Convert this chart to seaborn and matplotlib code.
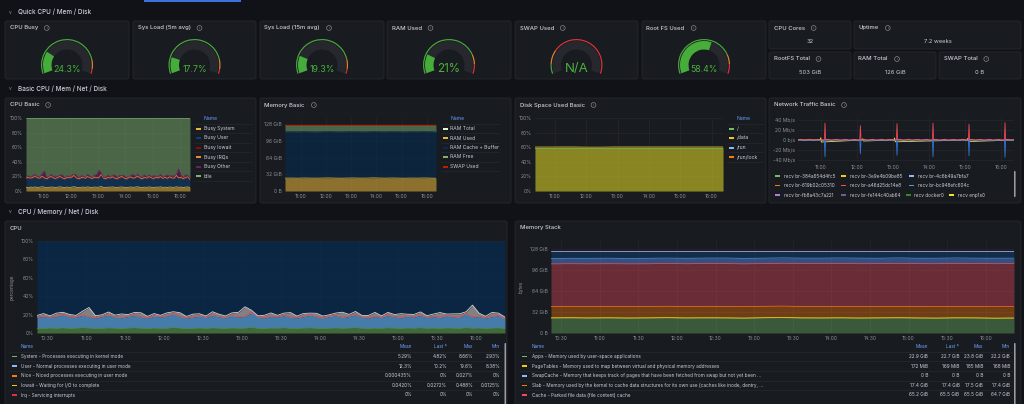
import matplotlib
matplotlib.use("Agg")
import matplotlib.pyplot as plt
from matplotlib.patches import Rectangle, Wedge, Circle, FancyBboxPatch
import numpy as np
import pandas as pd
import seaborn as sns

W, H = 1024, 404
BG = "#111217"
PANEL = "#181b1f"
BORDER = "#26282e"
TEXT = "#ccccdc"
MUTED = "#8e8e99"
GRID = "#25272c"
LINK = "#6e9fff"

# ---------------- quick stats ----------------
gauge_titles = ["CPU Busy", "Sys Load (5m avg)", "Sys Load (15m avg)", "RAM Used", "SWAP Used", "Root FS Used"]
gauge_values = [24.3, 17.7, 19.3, 21.0, None, 58.4]
gauge_labels = ["24.3%", "17.7%", "19.3%", "21%", "N/A", "58.4%"]
gauge_label_size = [6.3, 6.3, 6.3, 8.3, 9.5, 6.3]
gauge_thresholds = [(85, 95), (85, 95), (85, 95), (80, 90), (10, 25), (80, 90)]

stat_titles = ["CPU Cores", "Uptime", "RootFS Total", "RAM Total", "SWAP Total"]
stat_values = ["32", "7.2 weeks", "503 GiB", "126 GiB", "0 B"]

# ---------------- time window (hours of day) ----------------
T0, T1 = 10 + 22 / 60, 16 + 22 / 60

# CPU (%), 5 min samples
cpu_system = [5.1, 4.8, 5.4, 5.0, 5.6, 4.9, 5.2, 5.8, 5.3, 4.7,
              5.0, 5.5, 5.2, 4.9, 5.3, 5.7, 5.1, 4.8, 5.4, 5.0,
              5.2, 5.9, 5.3, 4.6, 5.1, 5.4, 5.0, 5.6, 5.2, 4.9,
              5.5, 5.1, 5.3, 6.1, 5.0, 4.8, 5.4, 5.2, 5.7, 5.0,
              4.9, 5.3, 5.6, 5.1, 4.7, 5.2, 5.5, 5.0, 5.4, 5.8,
              5.1, 4.9, 5.3, 5.0, 5.6, 5.2, 4.8, 5.4, 5.1, 5.7,
              5.0, 5.3, 4.9, 5.5, 5.2, 5.0, 5.8, 5.1, 5.4, 4.8,
              5.3, 5.6, 4.8]
cpu_user = [12.1, 13.0, 11.6, 12.8, 14.2, 12.4, 11.9, 13.5, 12.2, 11.4,
            12.9, 13.8, 12.0, 11.7, 12.6, 13.3, 12.1, 11.2, 12.8, 12.4,
            13.1, 14.6, 12.3, 11.5, 12.0, 12.9, 11.8, 13.4, 12.5, 11.6,
            13.0, 12.2, 12.7, 15.8, 12.1, 11.3, 12.6, 12.0, 13.2, 11.9,
            11.5, 12.4, 13.6, 12.2, 11.1, 12.7, 13.1, 11.8, 12.5, 13.9,
            12.0, 11.4, 12.6, 11.9, 13.3, 12.3, 11.6, 12.8, 12.1, 13.4,
            11.7, 12.5, 11.8, 13.0, 12.2, 11.9, 14.8, 12.0, 12.6, 11.5,
            12.4, 13.2, 10.2]
cpu_softirq = [0.7, 0.8, 0.6, 0.7, 0.9, 0.7, 0.6, 0.8, 0.7, 0.6,
               0.8, 0.7, 0.6, 0.7, 0.8, 0.9, 0.7, 0.6, 0.7, 0.8,
               0.7, 0.9, 0.6, 0.7, 0.8, 0.7, 0.6, 0.8, 0.7, 0.6,
               0.7, 0.8, 0.7, 1.0, 0.6, 0.7, 0.8, 0.7, 0.6, 0.7,
               0.8, 0.7, 0.9, 0.6, 0.7, 0.8, 0.7, 0.6, 0.7, 0.8,
               0.7, 0.6, 0.8, 0.7, 0.9, 0.7, 0.6, 0.8, 0.7, 0.7,
               0.6, 0.8, 0.7, 0.9, 0.7, 0.6, 0.8, 0.7, 0.7, 0.6,
               0.8, 0.7, 0.6]
cpu_steal = [1.2, 2.5, 1.0, 3.1, 1.8, 2.2, 1.4, 3.6, 9.5, 2.0,
             1.1, 2.8, 1.6, 3.4, 1.3, 2.4, 4.1, 1.5, 2.2, 1.0,
             2.9, 1.7, 3.8, 1.2, 2.6, 1.9, 1.1, 3.3, 2.0, 1.4,
             2.7, 4.4, 9.8, 1.8, 1.0, 2.5, 3.0, 1.3, 2.1, 4.6,
             1.2, 2.8, 1.5, 3.5, 1.9, 1.1, 2.4, 5.2, 1.6, 2.9,
             1.3, 2.2, 3.7, 1.0, 2.6, 1.8, 4.0, 1.4, 2.3, 3.1,
             1.5, 2.0, 4.8, 1.2, 2.7, 3.4, 1.6, 12.5, 2.9, 1.3,
             3.8, 2.1, 1.7]

# memory (GiB), 15 min samples
mem_total = 125.7
mem_used = [24.6, 24.8, 24.5, 24.9, 24.7, 24.6, 24.8, 25.0, 24.7, 24.5, 24.8, 24.9, 24.6,
            24.7, 25.1, 24.8, 24.6, 24.9, 24.7, 24.5, 24.8, 24.6, 24.9, 24.7, 24.4]
mem_free = [12.4, 12.3, 12.5, 12.2, 12.4, 12.6, 12.3, 12.1, 12.4, 12.5, 12.3, 12.2, 12.4,
            12.5, 12.0, 12.3, 12.4, 12.2, 12.3, 12.5, 12.2, 12.4, 12.1, 12.3, 12.6]
ms_apps = [22.9, 23.1, 22.8, 23.0, 22.7, 22.9, 23.2, 22.8, 23.0, 22.9, 22.6, 23.1, 23.4,
           22.9, 22.8, 23.0, 22.7, 22.9, 23.1, 22.8, 22.6, 23.0, 22.9, 22.5, 22.7]
ms_pagetables = [0.17, 0.17, 0.17, 0.18, 0.17, 0.17, 0.17, 0.17, 0.18, 0.17, 0.17, 0.17, 0.17,
                 0.17, 0.18, 0.17, 0.17, 0.17, 0.17, 0.17, 0.17, 0.17, 0.17, 0.17, 0.17]
ms_slab = [17.4, 17.4, 17.4, 17.5, 17.4, 17.4, 17.4, 17.4, 17.5, 17.4, 17.4, 17.4, 17.4,
           17.4, 17.5, 17.4, 17.4, 17.4, 17.4, 17.4, 17.4, 17.4, 17.4, 17.4, 17.4]
ms_cache = [64.8, 64.9, 65.0, 64.9, 65.1, 65.0, 65.2, 65.1, 65.2, 65.3, 65.2, 65.1, 65.3,
            65.2, 65.3, 65.4, 65.3, 65.2, 65.4, 65.3, 65.4, 65.5, 65.4, 65.5, 65.5]
ms_buffers = [8.4, 8.3, 8.5, 8.4, 8.3, 8.4, 8.2, 8.4, 8.3, 8.5, 8.4, 8.3, 8.2,
              8.4, 8.3, 8.4, 8.5, 8.3, 8.4, 8.3, 8.4, 8.3, 8.2, 8.4, 8.3]

# disk used (%)
disk_root = [58.3, 58.3, 58.4, 58.3, 58.4, 58.4, 58.4, 58.5, 58.4, 58.4, 58.4, 58.4, 58.4,
             58.4, 58.4, 58.4, 58.4, 58.4, 58.4, 58.4, 58.4, 58.4, 58.4, 58.4, 58.4]
disk_data = [60.3, 60.3, 60.3, 60.4, 60.4, 60.4, 60.2, 60.1, 60.1, 60.2, 60.4, 60.4, 60.4,
             60.4, 60.4, 60.4, 60.4, 60.4, 60.4, 60.4, 60.4, 60.4, 60.4, 60.4, 60.4]

# network (Mb/s): bursty interfaces sampled as (time, value)
net_a46d_time = ["10:22", "11:06", "11:07", "11:08", "12:05", "12:06", "12:07",
                 "13:06", "13:07", "13:08", "14:06", "14:07", "14:08",
                 "15:06", "15:07", "15:08", "16:06", "16:07", "16:08", "16:22"]
net_a46d = [0.4, 0.4, 33.0, 0.4, 0.4, 28.0, 0.4,
            0.4, 32.0, 0.4, 0.4, 33.0, 0.4,
            0.4, 31.0, 0.4, 0.4, 34.0, 0.4, 0.4]
net_bc94_time = net_a46d_time
net_bc94 = [-0.4, -0.4, -33.0, -0.4, -0.4, -27.0, -0.4,
            -0.4, -30.0, -0.4, -0.4, -33.0, -0.4,
            -0.4, -31.0, -0.4, -0.4, -34.0, -0.4, -0.4]
net_enp1_time = ["10:22", "10:59", "11:00", "11:01", "12:09", "12:10", "12:11",
                 "13:02", "13:03", "13:04", "15:04", "15:05", "15:06", "16:22"]
net_enp1 = [0.0, 0.0, 4.5, -4.0, 0.0, 2.5, -2.0,
            0.0, 4.0, -3.5, 0.0, 3.5, -3.0, 0.0]
# steady interface, 5 min samples
net_4c6b = [0.2, 1.4, -1.3, 0.1, 1.5, -1.2, 0.2, 1.3, -1.4, 0.1,
            1.4, -1.3, 0.2, 1.5, -1.2, 0.1, 1.4, -1.3, 0.2, 1.3,
            -1.4, 0.1, 1.5, -1.2, 0.2, 1.4, -1.3, 0.1, 1.5, -1.4,
            0.2, 1.3, -1.2, 0.1, 1.4, -1.3, 0.2, 1.5, -1.4, 0.1,
            1.3, -1.2, 0.2, 1.4, -1.3, 0.1, 1.5, -1.4, 0.2, 1.4,
            -1.3, 0.1, 1.3, -1.2, 0.2, 1.5, -1.4, 0.1, 1.4, -1.3,
            0.2, 1.3, -1.2, 0.1, 1.5, -1.4, 0.2, 1.4, -1.3, 0.1,
            1.5, -1.2, 0.2]

net_legend = [["recv br-384a654d4fc5", "recv br-3e9e4b09be85", "recv br-4c6b49a7bfa7"],
              ["recv br-619b02c05310", "recv br-a46d25dc14e8", "recv br-bc948efc604c"],
              ["recv br-fb8a43c7a221", "recv br-fe144c40ab64", "recv docker0", "recv enp1s0"]]
net_legend_colors = [["#73bf69", "#f2cc0c", "#8ab8ff"],
                     ["#ff780a", "#f2495c", "#5794f2"],
                     ["#b877d9", "#705da0", "#37872d", "#fade2a"]]

cpu_basic_names = ["Busy System", "Busy User", "Busy Iowait", "Busy IRQs", "Busy Other", "Idle"]
cpu_basic_colors = ["#eab839", "#0a437c", "#890f02", "#ef843c", "#6d1f62", "#7eb26d"]
mem_basic_names = ["RAM Total", "RAM Used", "RAM Cache + Buffer", "RAM Free", "SWAP Used"]
mem_basic_colors = ["#e0f9d7", "#eab839", "#052b51", "#7eb26d", "#bf1b00"]
disk_names = ["/", "/data", "/run", "/run/lock"]
disk_colors = ["#73bf69", "#f2cc0c", "#8ab8ff", "#ff780a"]

cpu_rows = ["System - Processes executing in kernel mode",
            "User - Normal processes executing in user mode",
            "Nice - Niced processes executing in user mode",
            "Iowait - Waiting for I/O to complete",
            "Irq - Servicing interrupts"]
cpu_row_colors = ["#73bf69", "#8ab8ff", "#ff780a", "#f2cc0c", "#e02f44"]
cpu_mean = ["5.29%", "12.3%", "0.000435%", "0.0420%", "0%"]
cpu_last = ["4.82%", "10.2%", "0%", "0.0272%", "0%"]
cpu_max = ["8.66%", "19.6%", "0.027%", "0.488%", "0%"]
cpu_min = ["2.93%", "8.38%", "0%", "0.0125%", "0%"]

mem_rows = ["Apps - Memory used by user-space applications",
            "PageTables - Memory used to map between virtual and physical memory addresses",
            "SwapCache - Memory that keeps track of pages that have been fetched from swap but not yet been ...",
            "Slab - Memory used by the kernel to cache data structures for its own use (caches like inode, dentry, ...",
            "Cache - Parked file data (file content) cache"]
mem_row_colors = ["#73bf69", "#f2cc0c", "#8ab8ff", "#ff780a", "#f2495c"]
mem_mean = ["22.9 GiB", "172 MiB", "0 B", "17.4 GiB", "65.2 GiB"]
mem_last = ["22.7 GiB", "169 MiB", "0 B", "17.4 GiB", "65.5 GiB"]
mem_max = ["23.8 GiB", "185 MiB", "0 B", "17.5 GiB", "65.5 GiB"]
mem_min = ["22.2 GiB", "168 MiB", "0 B", "17.4 GiB", "64.7 GiB"]

# ---------------- setup ----------------
sns.set_theme(style="dark", rc={"axes.facecolor": PANEL, "figure.facecolor": BG})
plt.rcParams["font.family"] = ["Inter", "DejaVu Sans"]

fig = plt.figure(figsize=(W / 100, H / 100), dpi=100, facecolor=BG)
bg = fig.add_axes([0, 0, 1, 1])
bg.set_xlim(0, W)
bg.set_ylim(H, 0)
bg.set_facecolor(BG)
bg.axis("off")
renderer = fig.canvas.get_renderer()


def rect(x0, y0, x1, y1):
    return [x0 / W, 1 - y1 / H, (x1 - x0) / W, (y1 - y0) / H]


def hhmm(h):
    hh = int(h)
    mm = int(round((h - hh) * 60))
    return f"{hh:02d}:{mm:02d}"


def to_hours(stamps):
    return np.array([int(s[:2]) + int(s[3:]) / 60 for s in stamps])


def txt(x, y, s, size=3.6, color=TEXT, ha="left", **kw):
    return bg.text(x, y, s, fontsize=size, color=color, ha=ha, va="center", **kw)


def panel(x0, y0, x1, y1, title, icon=True):
    bg.add_patch(FancyBboxPatch((x0, y0), x1 - x0, y1 - y0,
                                boxstyle="round,pad=0,rounding_size=2",
                                fc=PANEL, ec=BORDER, lw=0.6))
    t = txt(x0 + 4.5, y0 + 7, title, size=4.3, fontweight="medium")
    if icon:
        bb = t.get_window_extent(renderer=renderer)
        ix = bb.x1 + 9
        bg.add_patch(Circle((ix, y0 + 7), 2.4, fill=False, ec=MUTED, lw=0.45))
        txt(ix, y0 + 7.2, "i", size=2.6, color=MUTED, ha="center")


def row_header(y, s):
    txt(10, y, "v", size=3.4, color=MUTED, ha="center")
    txt(18, y, s, size=4.6, fontweight="medium")


def ts_axes(box, ylim, yticks, ylabels, xticks):
    ax = fig.add_axes(rect(*box))
    ax.set_facecolor("none")
    ax.set_xlim(T0, T1)
    ax.set_ylim(*ylim)
    ax.set_yticks(yticks)
    ax.set_yticklabels(ylabels)
    ax.set_xticks(xticks)
    ax.set_xticklabels([hhmm(x) for x in xticks])
    ax.tick_params(length=0, labelsize=3.6, colors=MUTED, pad=2.2)
    ax.grid(True, color=GRID, lw=0.5)
    ax.set_axisbelow(True)
    for s in ax.spines.values():
        s.set_visible(False)
    return ax


def stack(ax, t, layers, colors, alphas, lw=0.5, lines=True):
    base = np.zeros(len(t))
    for vals, c, a in zip(layers, colors, alphas):
        top = base + np.asarray(vals, dtype=float)
        ax.fill_between(t, base, top, color=c, alpha=a, lw=0)
        if lines:
            sns.lineplot(x=t, y=top, ax=ax, color=c, lw=lw)
        base = top
    return base


def side_legend(x, y, names, colors, step=9.5, width=58):
    txt(x + 9.5, y, "Name", color=LINK, size=3.6)
    bg.plot([x, x + width], [y + 4.7, y + 4.7], color=BORDER, lw=0.5)
    for i, (n, c) in enumerate(zip(names, colors)):
        yy = y + step * (i + 1)
        bg.add_patch(Rectangle((x + 1.5, yy - 1), 5.5, 2, color=c, lw=0))
        txt(x + 9.5, yy, n, size=3.6)
        bg.plot([x, x + width], [yy + 4.7, yy + 4.7], color=BORDER, lw=0.5)


def table_legend(x_sw, x_txt, x_cols, y0, names, colors, cols, x_end):
    txt(x_txt, y0, "Name", color=LINK, size=3.4)
    for xc, head in zip(x_cols, ["Mean", "Last *", "Max", "Min"]):
        txt(xc, y0, head, color=LINK, size=3.4, ha="right")
    for i, (n, c) in enumerate(zip(names, colors)):
        yy = y0 + 9.6 * (i + 1)
        bg.plot([x_sw - 3, x_end], [yy - 4.8, yy - 4.8], color=BORDER, lw=0.5)
        bg.add_patch(Rectangle((x_sw, yy - 0.8), 5, 1.6, color=c, lw=0))
        txt(x_txt, yy, n, size=3.4)
        for xc, col in zip(x_cols, cols):
            txt(xc, yy, col[i], size=3.4, ha="right")


def gauge(box, value, thresholds, label, lsize):
    x0, y0, x1, y1 = box
    cx, cy, R = (x0 + x1) / 2, 65, 26
    ax = fig.add_axes(rect(cx - R - 2, cy - R - 2, cx + R + 2, cy + R + 2))
    ax.set_xlim(-R - 2, R + 2)
    ax.set_ylim(-R - 2, R + 2)
    ax.set_aspect("equal")
    ax.axis("off")
    a0, span = 200, 220
    t1, t2 = thresholds
    ang = lambda p: a0 - span * p / 100
    ax.add_patch(Wedge((0, 0), R, ang(t1), a0, width=1.2, color="#4aa83d", lw=0))
    ax.add_patch(Wedge((0, 0), R, ang(t2), ang(t1), width=1.2, color="#e5862b", lw=0))
    ax.add_patch(Wedge((0, 0), R, a0 - span, ang(t2), width=1.2, color="#e0323b", lw=0))
    ax.add_patch(Wedge((0, 0), R - 2, a0 - span, a0, width=8.5, color="#26282d", lw=0))
    if value is not None:
        ax.add_patch(Wedge((0, 0), R - 2, ang(value), a0, width=8.5, color="#46ad3a", lw=0))
    txt(cx, 69, label, size=lsize, color="#4caf3e", ha="center")


# ---------------- header bar ----------------
bg.add_patch(Rectangle((144, 0), 97, 1.6, color="#3d71d9", lw=0))

# ---------------- row 1: quick ----------------
row_header(12, "Quick CPU / Mem / Disk")
gauge_boxes = [(5, 21, 129, 79), (133, 21, 256, 79), (260, 21, 384, 79),
               (387, 21, 511, 79), (515, 21, 638, 79), (642, 21, 766, 79)]
for b, ttl, v, thr, lab, ls in zip(gauge_boxes, gauge_titles, gauge_values,
                                    gauge_thresholds, gauge_labels, gauge_label_size):
    panel(*b, ttl)
    gauge(b, v, thr, lab, ls)

stat_boxes = [(769, 21, 851, 49), (854, 21, 1021, 49), (769, 52, 851, 79),
              (854, 52, 936, 79), (939, 52, 1021, 79)]
for b, ttl, v in zip(stat_boxes, stat_titles, stat_values):
    panel(*b, ttl)
    txt((b[0] + b[2]) / 2, b[1] + 20.5, v, size=4.2, ha="center")

# ---------------- row 2: basic ----------------
row_header(89, "Basic CPU / Mem / Net / Disk")
hours = [11, 12, 13, 14, 15, 16]
pct_ticks = [0, 20, 40, 60, 80, 100]
pct_labels = [f"{p}%" for p in pct_ticks]
gib_ticks = [0, 32, 64, 96, 128]
gib_labels = ["0 B", "32 GiB", "64 GiB", "96 GiB", "128 GiB"]

t73 = np.linspace(T0, T1, len(cpu_system))
t25 = np.linspace(T0, T1, len(mem_used))

# CPU Basic
panel(5, 98, 256, 203, "CPU Basic")
ax = ts_axes((26, 118, 190, 191), (0, 100), pct_ticks, pct_labels, hours)
busy = [cpu_system, cpu_user, np.zeros(len(t73)), cpu_softirq, cpu_steal]
idle = 100 - np.sum([np.asarray(b) for b in busy], axis=0)
stack(ax, t73, busy + [idle], cpu_basic_colors, [0.55, 0.55, 0.6, 0.6, 0.6, 0.5], lw=0.5)
side_legend(194, 119, cpu_basic_names, cpu_basic_colors)

# Memory Basic
panel(260, 98, 511, 203, "Memory Basic")
ax = ts_axes((285, 118, 436, 191), (0, 139.5), gib_ticks, gib_labels, hours)
mem_cache_buf = mem_total - np.asarray(mem_used) - np.asarray(mem_free)
top = stack(ax, t25, [mem_used, mem_cache_buf, mem_free],
            mem_basic_colors[1:4], [0.55, 0.6, 0.5], lw=0.5)
sns.lineplot(x=t25, y=top, ax=ax, color=mem_basic_colors[4], lw=0.7)
side_legend(441, 119, mem_basic_names, mem_basic_colors)

# Disk Space Used Basic
panel(515, 98, 766, 203, "Disk Space Used Basic")
ax = ts_axes((535, 118, 723, 191), (0, 100), pct_ticks, pct_labels, hours)
ax.fill_between(t25, 0, disk_root, color=disk_colors[0], alpha=0.3, lw=0)
ax.fill_between(t25, 0, disk_data, color=disk_colors[1], alpha=0.45, lw=0)
sns.lineplot(x=t25, y=disk_root, ax=ax, color=disk_colors[0], lw=0.5)
sns.lineplot(x=t25, y=disk_data, ax=ax, color="#b9a62a", lw=0.6)
side_legend(727, 119, disk_names, disk_colors, width=36)

# Network Traffic Basic
panel(769, 98, 1021, 203, "Network Traffic Basic")
ax = ts_axes((798, 118, 1014, 162), (-43, 43), [-40, -20, 0, 20, 40],
             ["-40 Mb/s", "-20 Mb/s", "0 b/s", "20 Mb/s", "40 Mb/s"], hours)
net_df = pd.concat([
    pd.DataFrame({"time": t73, "rate": net_4c6b, "iface": "br-4c6b49a7bfa7"}),
    pd.DataFrame({"time": to_hours(net_enp1_time), "rate": net_enp1, "iface": "enp1s0"}),
    pd.DataFrame({"time": to_hours(net_bc94_time), "rate": net_bc94, "iface": "br-bc948efc604c"}),
    pd.DataFrame({"time": to_hours(net_a46d_time), "rate": net_a46d, "iface": "br-a46d25dc14e8"}),
])
net_palette = {"br-4c6b49a7bfa7": "#8ab8ff", "enp1s0": "#fade2a",
               "br-a46d25dc14e8": "#f2495c", "br-bc948efc604c": "#3274d9"}
sns.lineplot(data=net_df, x="time", y="rate", hue="iface", palette=net_palette,
             lw=0.6, legend=False, ax=ax, estimator=None, sort=False)
ax.set_xlabel("")
ax.set_ylabel("")
row_x = [[775, 841, 909], [775, 841, 909], [775, 841, 906, 949]]
for r, (names, cols, xs) in enumerate(zip(net_legend, net_legend_colors, row_x)):
    yy = 176 + 9.6 * r
    for n, c, x in zip(names, cols, xs):
        bg.add_patch(Rectangle((x, yy - 0.8), 5, 1.6, color=c, lw=0))
        txt(x + 8.5, yy, n, size=3.4)
bg.add_patch(FancyBboxPatch((1014, 171), 1.6, 26, boxstyle="round,pad=0,rounding_size=0.8",
                            fc="#9a9aa5", ec="none"))

# ---------------- row 3: detailed ----------------
row_header(211.5, "CPU / Memory / Net / Disk")
half_hours = [10.5, 11, 11.5, 12, 12.5, 13, 13.5, 14, 14.5, 15, 15.5, 16]

# CPU
panel(5, 221, 507, 412, "CPU", icon=False)
ax = ts_axes((37, 241, 505, 333), (0, 100), pct_ticks, pct_labels, half_hours)
layers = [cpu_system, cpu_user, cpu_softirq, cpu_steal]
top = stack(ax, t73, layers, ["#508642", "#5195ce", "#e24d42", "#d8d4d4"],
            [0.75, 0.8, 0.85, 0.55], lw=0.6)
ax.fill_between(t73, top, 100, color="#052b51", alpha=0.7, lw=0)
txt(12, 287, "percentage", size=3.4, color=MUTED, ha="center", rotation=90)
table_legend(12, 21, [412, 447, 473, 500], 347, cpu_rows, cpu_row_colors,
             [cpu_mean, cpu_last, cpu_max, cpu_min], 502)
bg.add_patch(FancyBboxPatch((504.5, 343), 1.6, 62, boxstyle="round,pad=0,rounding_size=0.8",
                            fc="#9a9aa5", ec="none"))

# Memory Stack
panel(515, 221, 1021, 412, "Memory Stack", icon=False)
ax = ts_axes((551, 241, 1014, 333), (0, 140.2), gib_ticks, gib_labels, half_hours)
known = np.sum([np.asarray(v) for v in [ms_apps, ms_pagetables, ms_slab, ms_cache, ms_buffers]], axis=0)
ms_unused = mem_total - known
top = stack(ax, t25, [ms_apps, ms_pagetables, ms_slab, ms_cache, ms_buffers, ms_unused],
            ["#73bf69", "#f2cc0c", "#ff780a", "#f2495c", "#5794f2", "#0a437c"],
            [0.38, 0.7, 0.38, 0.38, 0.45, 0.45], lw=0.5)
sns.lineplot(x=t25, y=top, ax=ax, color="#9a8fd0", lw=0.7)
txt(521, 287, "bytes", size=3.4, color=MUTED, ha="center", rotation=90)
table_legend(522, 532, [928, 959.5, 983, 1010], 347, mem_rows, mem_row_colors,
             [mem_mean, mem_last, mem_max, mem_min], 1012)
bg.add_patch(FancyBboxPatch((1014, 343), 1.6, 62, boxstyle="round,pad=0,rounding_size=0.8",
                            fc="#9a9aa5", ec="none"))

fig.savefig("out.png", dpi=100, facecolor=BG)
